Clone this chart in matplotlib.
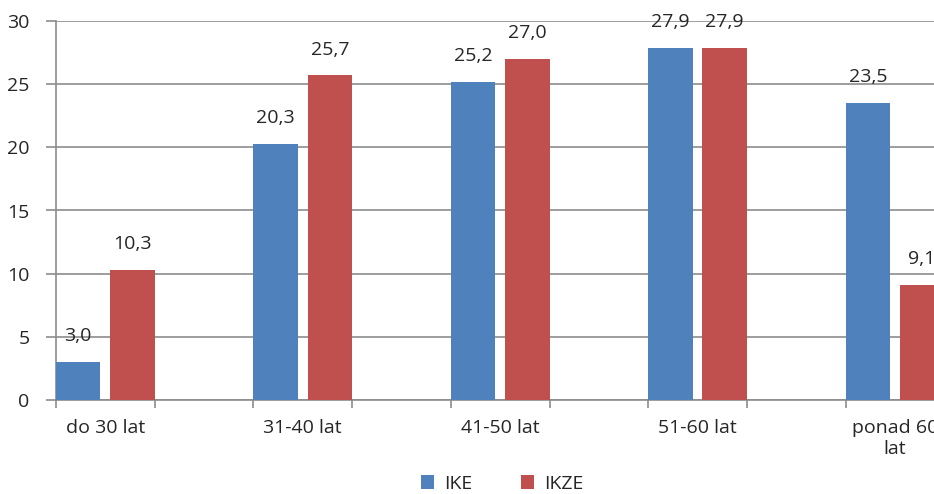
import matplotlib.pyplot as plt
import numpy as np

plt.rcParams['font.family'] = ['Open Sans', 'DejaVu Sans']

# dane
kategorie = ['do 30 lat', '31-40 lat', '41-50 lat', '51-60 lat', 'ponad 60\nlat']
ike = [3.0, 20.3, 25.2, 27.9, 23.5]
ikze = [10.3, 25.7, 27.0, 27.9, 9.1]
serie = ['IKE', 'IKZE']
kolory = ['#4F81BD', '#C0504D']
szary = '#8C8C8C'
tekst = '#262626'

fig = plt.figure(figsize=(9.34, 4.94), dpi=100)
# os wychodzi poza prawa krawedz, jak w oryginale (wykres przyciety)
ax = fig.add_axes([56 / 934, 94 / 494, 987 / 934, 379 / 494])

# kazda kategoria zajmuje dwa sloty, slupki w pierwszym slocie
x = np.arange(len(kategorie)) * 2
w = 0.45
b1 = ax.bar(x, ike, width=w, align='edge', color=kolory[0], label=serie[0], zorder=3)
b2 = ax.bar(x + 1 - w, ikze, width=w, align='edge', color=kolory[1], label=serie[1], zorder=3)

for bars in (b1, b2):
    for r in bars:
        ax.annotate(f'{r.get_height():.1f}'.replace('.', ','),
                    (r.get_x() + r.get_width() / 2, r.get_height()),
                    xytext=(0, 12), textcoords='offset points',
                    ha='center', va='bottom', fontsize=14, color=tekst)

ax.set_xlim(0, 10)
ax.set_ylim(0, 30)
ax.set_yticks(range(0, 31, 5))
ax.yaxis.grid(True, color=szary, linewidth=1.2, zorder=0)

ax.set_xticks(np.arange(0, 11))
ax.set_xticklabels([])
ax.set_xticks(x + 0.5, minor=True)
ax.set_xticklabels(kategorie, minor=True)
ax.tick_params(axis='x', which='major', length=6, width=1.2, color=szary)
ax.tick_params(axis='x', which='minor', length=0, pad=14, labelsize=14, labelcolor=tekst)
ax.tick_params(axis='y', length=7, width=1.2, color=szary, pad=12, labelsize=14, labelcolor=tekst)

for s in ['top', 'right']:
    ax.spines[s].set_visible(False)
for s in ['left', 'bottom']:
    ax.spines[s].set_color(szary)
    ax.spines[s].set_linewidth(1.2)

fig.legend(loc='center', bbox_to_anchor=(502 / 934, 1 - 484 / 494), ncol=2, frameon=False,
           fontsize=14, handlelength=0.7, handleheight=0.7, handletextpad=0.5,
           columnspacing=2.5, labelcolor=tekst)

plt.savefig('out.png', dpi=100)
